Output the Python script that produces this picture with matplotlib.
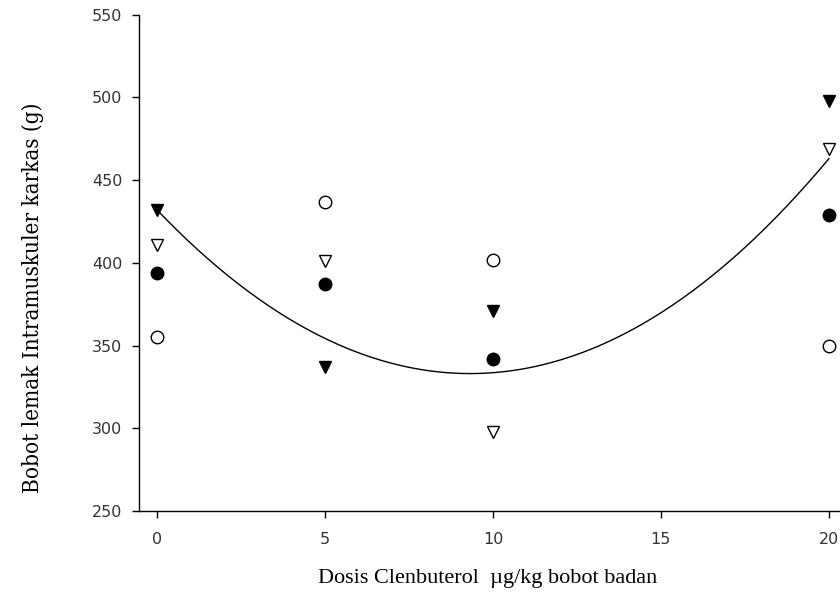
import matplotlib

matplotlib.use("Agg")
import matplotlib.pyplot as plt
import numpy as np

# dose levels (ug/kg body weight) and intramuscular fat weight per group
doses = [0, 5, 10, 20]
filled_circle = [394, 387, 342, 429]
open_circle = [355, 437, 402, 350]
filled_tri = [432, 337, 371, 498]
open_tri = [411, 401, 298, 469]

# quadratic response curve: y = c0 + c1*x + c2*x^2
fit_coef = [432.0, -21.23, 1.139]

x_ticks = [0, 5, 10, 15, 20]
y_ticks = [250, 300, 350, 400, 450, 500, 550]

fig = plt.figure(figsize=(8.4, 5.97), dpi=100)
ax = fig.add_axes([139 / 840, 1 - 511 / 597, 701 / 840, (511 - 14.7) / 597])

xs = np.linspace(0, 20, 200)
ax.plot(xs, fit_coef[0] + fit_coef[1] * xs + fit_coef[2] * xs ** 2,
        color="black", lw=1.0)

ms = 9
ax.plot(doses, filled_circle, "o", ms=ms, color="black", ls="none")
ax.plot(doses, open_circle, "o", ms=ms, mfc="white", mec="black", mew=1.0, ls="none")
ax.plot(doses, filled_tri, "v", ms=ms, color="black", ls="none")
ax.plot(doses, open_tri, "v", ms=ms, mfc="white", mec="black", mew=1.0, ls="none")

ax.set_xlim(-0.536, 20.33)
ax.set_ylim(250, 550)
ax.set_xticks(x_ticks)
ax.set_yticks(y_ticks)
ax.spines["top"].set_visible(False)
ax.spines["right"].set_visible(False)
for s in ("left", "bottom"):
    ax.spines[s].set_linewidth(1.0)
ax.tick_params(direction="out", length=5, width=1.0, labelsize=11.5,
               labelcolor="#333333")
ax.tick_params(axis="x", pad=10)
ax.tick_params(axis="y", pad=7)

ax.set_xlabel("Dosis Clenbuterol  \u00b5g/kg bobot badan",
              family="Liberation Serif", fontsize=16)
ax.xaxis.set_label_coords(0.497, -0.117)
ax.set_ylabel("Bobot lemak Intramuskuler karkas (g)",
              family="DejaVu Serif", fontstretch="condensed", fontsize=16.1)
ax.yaxis.set_label_coords(-0.1355, 0.43)

fig.savefig("out.png", dpi=100)
